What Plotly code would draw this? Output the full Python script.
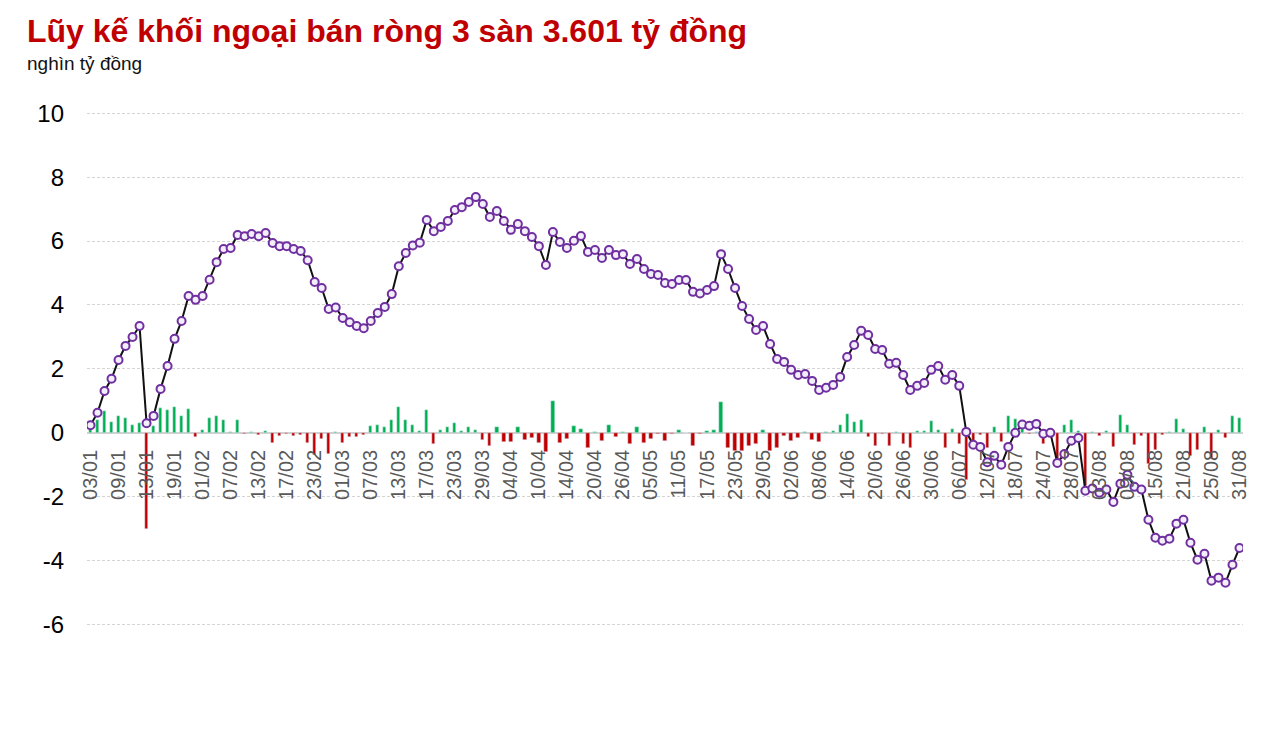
import plotly.graph_objects as go

# trading days 2023
ngay = [
    "03/01", "04/01", "05/01", "06/01", "09/01", "10/01", "11/01", "12/01", "13/01", "16/01",
    "17/01", "18/01", "19/01", "27/01", "30/01", "31/01",
    "01/02", "02/02", "03/02", "06/02", "07/02", "08/02", "09/02", "10/02", "13/02", "14/02",
    "15/02", "16/02", "17/02", "20/02", "21/02", "22/02", "23/02", "24/02", "27/02", "28/02",
    "01/03", "02/03", "03/03", "06/03", "07/03", "08/03", "09/03", "10/03", "13/03", "14/03",
    "15/03", "16/03", "17/03", "20/03", "21/03", "22/03", "23/03", "24/03", "27/03", "28/03",
    "29/03", "30/03", "31/03",
    "03/04", "04/04", "05/04", "06/04", "07/04", "10/04", "11/04", "12/04", "13/04", "14/04",
    "17/04", "18/04", "19/04", "20/04", "21/04", "24/04", "25/04", "26/04", "27/04", "28/04",
    "04/05", "05/05", "08/05", "09/05", "10/05", "11/05", "12/05", "15/05", "16/05", "17/05",
    "18/05", "19/05", "22/05", "23/05", "24/05", "25/05", "26/05", "29/05", "30/05", "31/05",
    "01/06", "02/06", "05/06", "06/06", "07/06", "08/06", "09/06", "12/06", "13/06", "14/06",
    "15/06", "16/06", "19/06", "20/06", "21/06", "22/06", "23/06", "26/06", "27/06", "28/06",
    "29/06", "30/06",
    "03/07", "04/07", "05/07", "06/07", "07/07", "10/07", "11/07", "12/07", "13/07", "14/07",
    "17/07", "18/07", "19/07", "20/07", "21/07", "24/07", "25/07", "26/07", "27/07", "28/07",
    "31/07",
    "01/08", "02/08", "03/08", "04/08", "07/08", "08/08", "09/08", "10/08", "11/08", "14/08",
    "15/08", "16/08", "17/08", "18/08", "21/08", "22/08", "23/08", "24/08", "25/08", "28/08",
    "29/08", "30/08", "31/08",
]

# gia tri rong moi phien (nghin ty dong)
rong = [
    0.24, 0.40, 0.68, 0.35, 0.54, 0.46, 0.26, 0.32, -3.02, 0.20,
    0.79, 0.73, 0.82, 0.54, 0.76, -0.135, 0.10, 0.48, 0.54, 0.39,
    0.03, 0.39, -0.04, 0.04, -0.07, 0.07, -0.32, -0.10, -0.04, -0.10,
    -0.07, -0.32, -0.70, -0.20, -0.67, 0.04, -0.32, -0.135, -0.135, -0.07,
    0.20, 0.23, 0.17, 0.39, 0.82, 0.39, 0.23, 0.05, 0.70, -0.35,
    0.10, 0.17, 0.32, 0.07, 0.17, 0.10, -0.23, -0.42, 0.17, -0.29,
    -0.29, 0.17, -0.23, -0.17, -0.32, -0.60, 1.01, -0.32, -0.20, 0.20,
    0.135, -0.48, 0.04, -0.26, 0.23, -0.135, 0.03, -0.35, 0.17, -0.32,
    -0.20, -0.04, -0.26, -0.04, 0.10, 0.00, -0.42, -0.04, 0.07, 0.10,
    0.98, -0.48, -0.57, -0.57, -0.42, -0.35, 0.10, -0.57, -0.48, -0.10,
    -0.26, -0.17, 0.03, -0.23, -0.29, 0.04, 0.07, 0.26, 0.60, 0.35,
    0.39, -0.125, -0.41, -0.04, -0.41, 0.03, -0.34, -0.47, 0.07, 0.07,
    0.385, 0.10, -0.48, 0.13, -0.34, -1.48, -0.28, -0.07, -0.48, 0.17,
    -0.30, 0.54, 0.42, 0.25, -0.03, 0.04, -0.35, 0.02, -0.92, 0.26,
    0.39, 0.07, -1.65, 0.04, -0.10, 0.07, -0.45, 0.57, 0.26, -0.39,
    -0.10, -0.98, -0.55, -0.07, 0.04, 0.42, 0.135, -0.73, -0.54, 0.17,
    -0.83, 0.10, -0.17, 0.54, 0.48,
]

# luy ke (nghin ty dong)
luy_ke = [
    0.24, 0.63, 1.31, 1.69, 2.28, 2.72, 3.00, 3.34, 0.30, 0.53,
    1.375, 2.09, 2.94, 3.50, 4.28, 4.16, 4.28, 4.79, 5.34, 5.75,
    5.78, 6.19, 6.15, 6.22, 6.15, 6.25, 5.94, 5.84, 5.84, 5.75,
    5.69, 5.40, 4.72, 4.53, 3.875, 3.92, 3.59, 3.46, 3.34, 3.27,
    3.50, 3.75, 3.94, 4.34, 5.21, 5.625, 5.86, 5.95, 6.66, 6.31,
    6.44, 6.625, 6.97, 7.06, 7.22, 7.375, 7.16, 6.75, 6.94, 6.625,
    6.35, 6.53, 6.31, 6.125, 5.84, 5.25, 6.28, 5.97, 5.78, 6.01,
    6.16, 5.66, 5.72, 5.47, 5.72, 5.56, 5.59, 5.28, 5.44, 5.125,
    4.97, 4.94, 4.69, 4.66, 4.78, 4.78, 4.41, 4.36, 4.47, 4.59,
    5.59, 5.125, 4.53, 3.97, 3.56, 3.22, 3.34, 2.78, 2.31, 2.22,
    1.97, 1.81, 1.84, 1.625, 1.34, 1.41, 1.50, 1.75, 2.375, 2.75,
    3.19, 3.06, 2.625, 2.59, 2.16, 2.19, 1.81, 1.34, 1.47, 1.56,
    1.97, 2.09, 1.66, 1.81, 1.47, 0.03, -0.375, -0.44, -0.92, -0.72,
    -1.00, -0.44, 0.00, 0.26, 0.22, 0.28, -0.03, 0.00, -0.94, -0.66,
    -0.25, -0.16, -1.81, -1.74, -1.875, -1.77, -2.16, -1.59, -1.31, -1.69,
    -1.77, -2.72, -3.28, -3.375, -3.31, -2.84, -2.72, -3.44, -3.97, -3.78,
    -4.625, -4.53, -4.69, -4.125, -3.601,
]

y_ticks = [10, 8, 6, 4, 2, 0, -2, -4, -6]
y_text = ["10", "8", "6", "4", "2", "0", "-2", "-4", "-6"]

XANH = "#00b050"
DO = "#c00000"
TIM = "#7030a0"

y_min, y_max = -7.2, 10.6
# page body has an 8px margin, so the figure is a bit smaller than the window
W, H = 1266, 714
m_l, m_r, m_t, m_b = 79, 31, 86, 59

fig = go.Figure()

fig.add_trace(go.Bar(
    x=ngay, y=rong,
    marker_color=[XANH if v >= 0 else DO for v in rong],
    width=0.47,
    name="Ròng",
    hovertemplate="%{x}: %{y:.2f}<extra></extra>",
))

fig.add_trace(go.Scatter(
    x=ngay, y=luy_ke,
    mode="lines+markers",
    line=dict(color="#111111", width=2),
    marker=dict(size=8, color="#f2eefa", line=dict(color=TIM, width=2)),
    name="Lũy kế",
    hovertemplate="%{x}: %{y:.3f}<extra></extra>",
))

zero_pos = (0 - y_min) / (y_max - y_min)

fig.update_layout(
    width=W, height=H,
    margin=dict(l=m_l, r=m_r, t=m_t, b=m_b),
    plot_bgcolor="white",
    paper_bgcolor="white",
    showlegend=False,
    bargap=0,
    font=dict(family="Liberation Sans, Arial, sans-serif"),
    title=dict(
        text="<b>Lũy kế khối ngoại bán ròng 3 sàn 3.601 tỷ đồng</b>",
        font=dict(size=32, color=DO),
        xref="container", x=19 / W, xanchor="left",
        yref="container", y=1 - 23 / H, yanchor="middle",
    ),
    annotations=[dict(
        text="nghìn tỷ đồng",
        xref="paper", yref="paper",
        x=(17 - m_l) / (W - m_l - m_r), xanchor="left",
        y=(H - m_b - 55) / (H - m_t - m_b), yanchor="middle",
        showarrow=False,
        font=dict(size=19, color="#111111"),
    )],
    xaxis=dict(
        type="category",
        range=[-0.5, len(ngay) - 0.5],
        tickmode="array",
        tickvals=ngay[::4],
        ticktext=ngay[::4],
        tickangle=-90,
        tickfont=dict(size=20, color="#595959"),
        showgrid=False,
        showline=False,
        ticks="",
        anchor="free",
        position=zero_pos,
        ticklabelstandoff=12,
    ),
    yaxis=dict(
        range=[y_min, y_max],
        tickvals=y_ticks,
        ticktext=y_text,
        tickfont=dict(size=24, color="#000000"),
        showgrid=True,
        gridcolor="#d4d4d4",
        gridwidth=1,
        griddash="3px,2px",
        zeroline=True,
        zerolinecolor="#d0d0d0",
        zerolinewidth=2,
        showline=False,
        ticks="",
        ticklabelstandoff=22,
    ),
)

fig.write_html("out.html")
